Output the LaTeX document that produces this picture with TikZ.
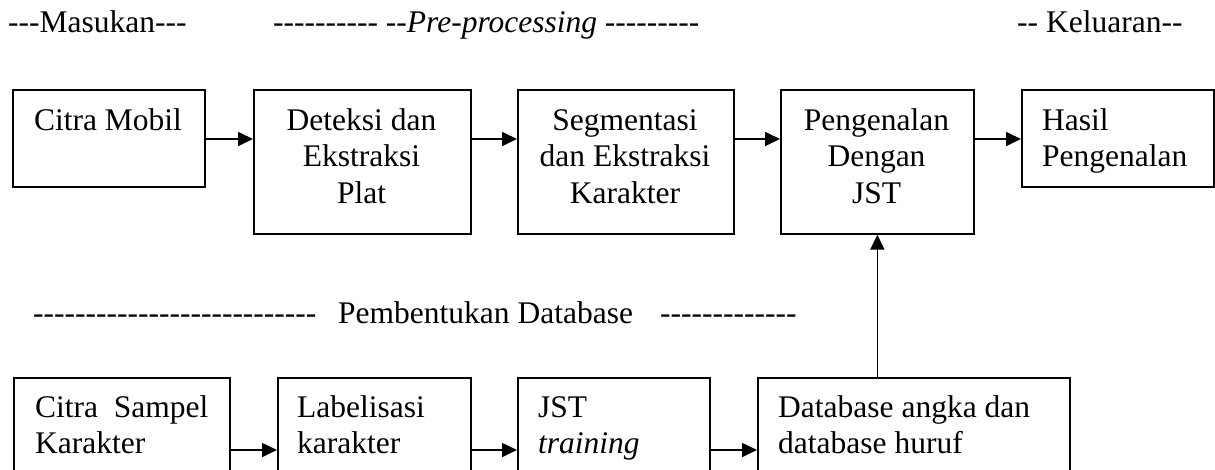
\documentclass[tikz,border=0pt]{standalone}
\usepackage{fontspec}
\setmainfont{Liberation Serif}[Ligatures=TeXOff]
\usetikzlibrary{arrows.meta}
% multi-line cell text whose baseline is the first line's baseline
\newcommand\ctrlines[1]{\begin{tabular}[t]{@{}c@{}}#1\end{tabular}}
\newcommand\leftlines[1]{\begin{tabular}[t]{@{}l@{}}#1\end{tabular}}

\begin{document}
\begin{tikzpicture}[x=1pt,y=-1pt,
  box/.style={draw, line width=1.7pt, inner sep=0pt, anchor=north west},
  boxfont/.style={font=\fontsize{31.5}{36.5}\selectfont},
  toptxt/.style={boxfont, inner sep=0pt, anchor=base},
  lefttxt/.style={boxfont, inner sep=0pt, anchor=base west},
  head/.style={boxfont, inner sep=0pt, anchor=base west},
  arr/.style={line width=1.7pt, -{Triangle[length=15pt,width=14pt]}}
]
\useasboundingbox (0,0) rectangle (1215,469);
\fill[white] (0,0) rectangle (1215,469);
\clip (0,0) rectangle (1215,469);

% section headings
\node[head] (hin)  at (8,32)    {---Masukan---};
\node[head] (hpre) at (273,32)  {---------- --\textit{Pre-processing} ---------};
\node[head] (hout) at (1017,32) {-- Keluaran--};
\node[head] (hdbl) at (33,323)  {---------------------------};
\node[head] (hdb)  at (338,323) {Pembentukan Database};
\node[head] (hdbr) at (660,323) {-------------};

% recognition pipeline
\node[box, minimum width=192pt, minimum height=97pt]  (cm) at (12,89)   {};
\node[box, minimum width=217pt, minimum height=144pt] (dx) at (253,89)  {};
\node[box, minimum width=216pt, minimum height=144pt] (sg) at (517,89)  {};
\node[box, minimum width=193pt, minimum height=144pt] (pj) at (780,89)  {};
\node[box, minimum width=192pt, minimum height=97pt]  (hp) at (1021,89) {};

\node[toptxt]  (cmt) at (108,130)   {Citra Mobil};
\node[toptxt]  (dxt) at (361.5,130) {\ctrlines{Deteksi dan\\Ekstraksi\\Plat}};
\node[toptxt]  (sgt) at (625,130)   {\ctrlines{Segmentasi\\dan Ekstraksi\\Karakter}};
\node[toptxt]  (pjt) at (876.5,130) {\ctrlines{Pengenalan\\Dengan\\JST}};
\node[lefttxt] (hpt) at (1042,130)  {\leftlines{Hasil\\Pengenalan}};

% database building (boxes run past the lower edge)
\node[box, minimum width=216pt, minimum height=150pt] (cs) at (13,377)  {};
\node[box, minimum width=193pt, minimum height=150pt] (lb) at (277,377) {};
\node[box, minimum width=192pt, minimum height=150pt] (jt) at (517,377) {};
\node[box, minimum width=312pt, minimum height=150pt] (db) at (757,377) {};

\node[lefttxt] (cst) at (35,417)  {\leftlines{Citra\ \ Sampel\\Karakter}};
\node[lefttxt] (lbt) at (297,417) {\leftlines{Labelisasi\\karakter}};
\node[lefttxt] (jtt) at (538,417) {\leftlines{JST\\\textit{training}}};
\node[lefttxt] (dbt) at (778,417) {\leftlines{Database angka dan\\database huruf}};

% connectors
\coordinate (toprow) at (0,139);
\coordinate (botrow) at (0,450);
\draw[arr] (cm.east |- toprow) -- (dx.west |- toprow);
\draw[arr] (dx.east |- toprow) -- (sg.west |- toprow);
\draw[arr] (sg.east |- toprow) -- (pj.west |- toprow);
\draw[arr] (pj.east |- toprow) -- (hp.west |- toprow);
\draw[arr] (cs.east |- botrow) -- (lb.west |- botrow);
\draw[arr] (lb.east |- botrow) -- (jt.west |- botrow);
\draw[arr] (jt.east |- botrow) -- (db.west |- botrow);
\draw[arr] (db.north -| pj.south) -- (pj.south);
\end{tikzpicture}
\end{document}
